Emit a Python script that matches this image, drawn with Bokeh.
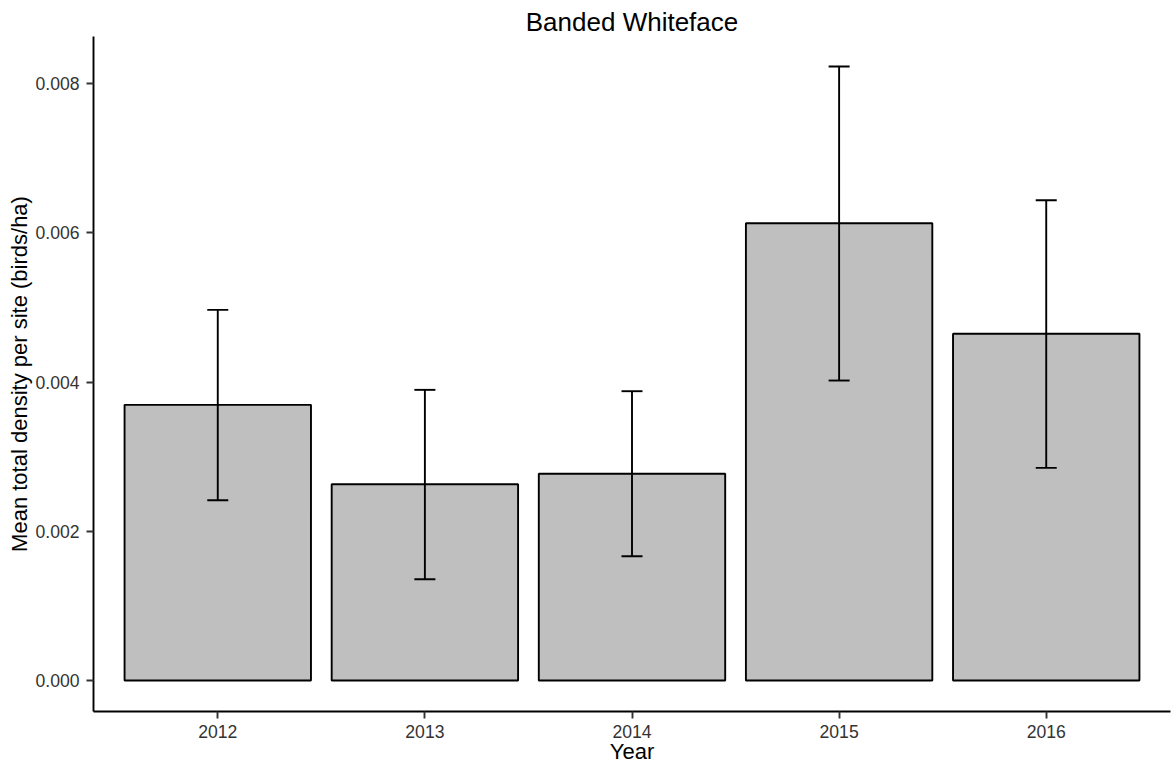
from bokeh.plotting import figure
from bokeh.models import (ColumnDataSource, FactorRange, Range1d, Whisker, TeeHead,
                          FixedTicker, PrintfTickFormatter)
from bokeh.embed import file_html
from bokeh.resources import INLINE

years = ["2012", "2013", "2014", "2015", "2016"]
means = [0.003694, 0.002631, 0.002770, 0.006128, 0.004646]
lower = [0.002416, 0.001357, 0.001666, 0.004020, 0.002850]
upper = [0.004967, 0.003895, 0.003877, 0.008228, 0.006436]
y_ticks = [0.000, 0.002, 0.004, 0.006, 0.008]

src = ColumnDataSource(dict(year=years, mean=means, lower=lower, upper=upper))

FONT = "Liberation Sans"
LW = 1.9
Y0, Y1 = -0.000415, 0.008630

p = figure(width=1176, height=769, output_backend="svg", toolbar_location=None,
           x_range=FactorRange(factors=years, range_padding=0.04),
           y_range=Range1d(Y0, Y1),
           title="Banded Whiteface",
           min_border_right=6, min_border_top=36, min_border_left=93, min_border_bottom=58)

p.vbar(x="year", top="mean", bottom=0, width=0.9, source=src,
       fill_color="#BFBFBF", line_color="black", line_width=LW)

w = Whisker(base="year", lower="lower", upper="upper", source=src,
            line_color="black", line_width=LW, level="overlay",
            upper_head=TeeHead(size=21, line_color="black", line_width=LW),
            lower_head=TeeHead(size=21, line_color="black", line_width=LW))
p.add_layout(w)

p.title.align = "center"
p.title.text_font = FONT
p.title.text_font_size = "26px"
p.title.text_font_style = "normal"
p.title.text_color = "black"
p.title.standoff = 0

p.xgrid.visible = False
p.ygrid.visible = False
p.outline_line_color = None

for ax in (p.xaxis[0], p.yaxis[0]):
    ax.axis_line_color = "black"
    ax.axis_line_width = LW
    ax.major_tick_line_color = "#333333"
    ax.major_tick_line_width = LW
    ax.major_tick_out = 7
    ax.major_tick_in = 0
    ax.minor_tick_line_color = None
    ax.major_label_text_font = FONT
    ax.major_label_text_font_size = "17.6px"
    ax.major_label_text_color = "#333333"
    ax.axis_label_text_font = FONT
    ax.axis_label_text_font_size = "22px"
    ax.axis_label_text_font_style = "normal"
    ax.axis_label_text_color = "black"

p.yaxis.ticker = FixedTicker(ticks=y_ticks)
p.yaxis.formatter = PrintfTickFormatter(format="%.3f")
p.xaxis.axis_label = "Year"
p.yaxis.axis_label = "Mean total density per site (birds/ha)"
p.xaxis.major_label_standoff = 6
p.xaxis.axis_label_standoff = -2
p.yaxis.major_label_standoff = 7
p.yaxis.axis_label_standoff = 0

open("out.html", "w").write(file_html(p, INLINE))
